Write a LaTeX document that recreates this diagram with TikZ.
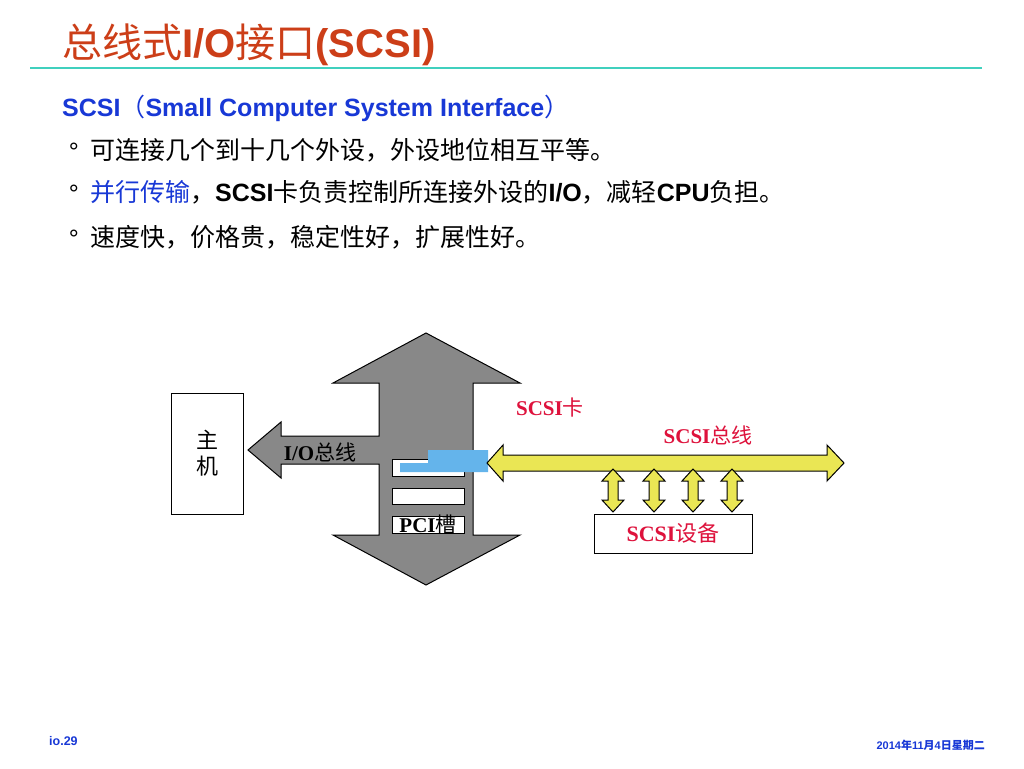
\documentclass[tikz,border=0pt]{standalone}
\usepackage{fontspec}
\setmainfont{Liberation Sans}
\newfontfamily\cjk{Noto Sans CJK SC}
\newfontfamily\tnr{Liberation Serif}
\usetikzlibrary{positioning}
\definecolor{titlered}{RGB}{204,62,24}
\definecolor{rulecol}{RGB}{64,208,190}
\definecolor{textblue}{RGB}{24,56,214}
\definecolor{busgray}{RGB}{136,136,136}
\definecolor{busyellow}{RGB}{234,230,84}
\definecolor{cardblue}{RGB}{100,180,235}
\definecolor{labelred}{RGB}{222,18,60}

\begin{document}
\begin{tikzpicture}[x=1pt,y=-1pt,
    box/.style={draw,line width=1pt,fill=white,inner sep=0,align=center},
    slot/.style={draw,line width=1pt,fill=white,minimum width=72pt,inner sep=0},
    txt/.style={anchor=base west,inner sep=0,font=\fontsize{25}{25}\selectfont},
    lbl/.style={inner sep=0,font=\fontsize{21}{21}\selectfont\tnr\bfseries},
    ybus/.style={draw,line width=1pt,fill=busyellow,line join=miter}]
    \useasboundingbox[fill=white] (0,0) rectangle (1024,768);

    % heading
    \node[anchor=base west,inner sep=0,text=titlered,font=\fontsize{40}{40}\selectfont]
        (title) at (62,58) {{\cjk 总线式}\textbf{I/O}{\cjk 接口}\textbf{(SCSI)}};
    \draw[rulecol,line width=1.5pt] (30,68) -- (982,68);
    \node[txt,text=textblue] (sub) at (62,116)
        {\textbf{SCSI}{\cjk （}\textbf{Small Computer System Interface}{\cjk ）}};
    \node[txt] (l1) at (90,159) {\cjk 可连接几个到十几个外设，外设地位相互平等。};
    \node[txt] (l2) at (90,201) {{\cjk\color{textblue}并行传输}{\cjk ，}\textbf{SCSI}{\cjk 卡负责控制所连接外设的}\textbf{I/O}{\cjk ，减轻}\textbf{CPU}{\cjk 负担。}};
    \node[txt] (l3) at (90,246) {\cjk 速度快，价格贵，稳定性好，扩展性好。};
    \foreach \n in {l1,l2,l3}
        \node[anchor=base east,inner sep=0,font=\fontsize{25}{25}\selectfont] at ([xshift=-11pt,yshift=-1pt]\n.base west) {°};

    % system bus
    \draw[line width=1pt,fill=busgray,line join=miter]
        (426,333) -- (520,383) -- (473,383) -- (473,535) -- (520,535) -- (426,585)
        -- (333,535) -- (379,535) -- (379,464) -- (281,464) -- (281,478) -- (248,450)
        -- (281,422) -- (281,436) -- (379,436) -- (379,383) -- (333,383) -- cycle;
    \node[box,minimum width=72pt,minimum height=121pt,font=\fontsize{22}{26}\selectfont\cjk]
        (host) at (207,453.5) {主\\机};
    \node[lbl] (iobus) at (320,452) {I/O{\cjk\mdseries 总线}};

    % slots and card
    \node[slot,minimum height=17pt] (s1) at (428,467.5) {};
    \node[slot,minimum height=16pt] (s2) at (428,496) {};
    \node[slot,minimum height=17pt] (s3) at (428,524.5) {};
    \node[lbl] (pci) at (s3) {PCI{\cjk\mdseries 槽}};
    \fill[cardblue] (428,450) -- (488,450) -- (488,472) -- (400,472) -- (400,463) -- (428,463) -- cycle;
    \coordinate (card) at (488,463);
    \node[lbl,text=labelred] (cardlbl) at (550,408) {SCSI{\cjk\mdseries 卡}};

    % SCSI bus
    \draw[ybus] (card) ++(-1,0) -- ++(16,-18) -- ++(0,10) -- (827,455) -- (827,445) -- (844,463)
        -- (827,481) -- (827,471) -- (503,471) -- (503,481) -- cycle;
    \node[lbl,text=labelred] (buslbl) at (708,435) {SCSI{\cjk\mdseries 总线}};
    \node[box,minimum width=158pt,minimum height=39pt,text=labelred,font=\fontsize{22}{22}\selectfont\tnr\bfseries]
        (dev) at (673,533.5) {SCSI{\cjk\mdseries 设备}};
    \foreach \x in {613,654,693,732}
        \draw[ybus] (\x,469) -- ++(11,12) -- ++(-6,0) -- ++(0,19) -- ++(6,0) -- (\x,512)
            -- ++(-11,-12) -- ++(6,0) -- ++(0,-19) -- ++(-6,0) -- cycle;

    % footer
    \node[anchor=west,inner sep=0,text=textblue,font=\fontsize{12.5}{12.5}\selectfont\bfseries]
        (page) at (49,741) {io.29};
    \node[anchor=east,inner sep=0,text=textblue,font=\fontsize{11}{11}\selectfont\bfseries]
        (date) at (985,745) {2014{\cjk 年}11{\cjk 月}4{\cjk 日星期二}};
\end{tikzpicture}
\end{document}
